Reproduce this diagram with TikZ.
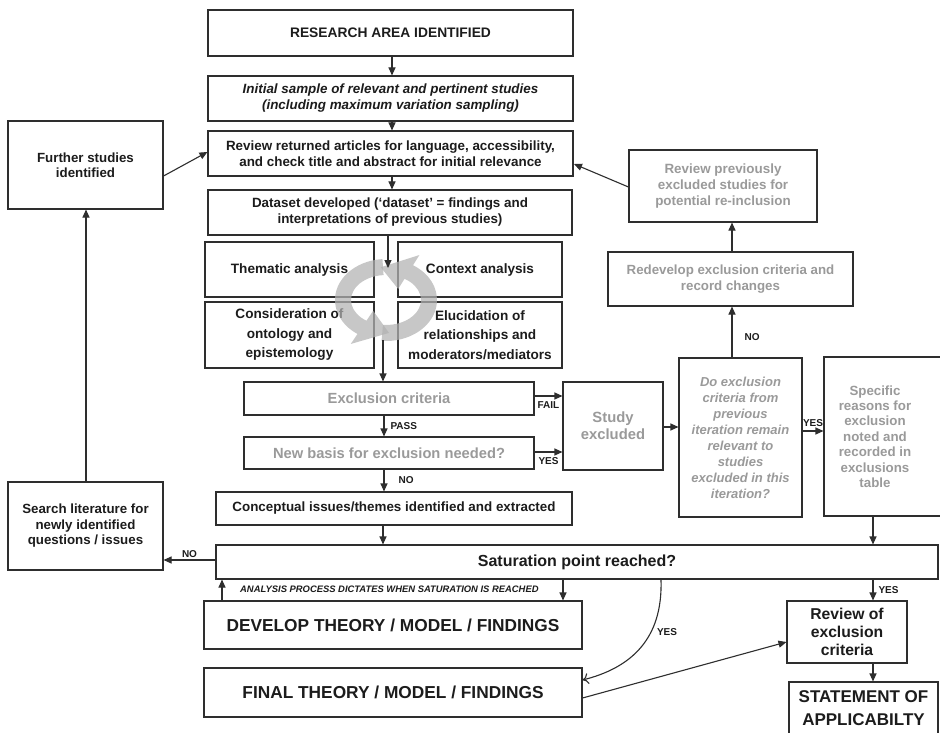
\documentclass[tikz,border=0pt]{standalone}
\usepackage{fontspec}
\setmainfont{Liberation Sans}
\usetikzlibrary{arrows.meta,calc}

\definecolor{ln}{HTML}{2E2E2E}
\definecolor{tx}{HTML}{1C1C1C}
\definecolor{gt}{HTML}{9A9A9A}
\definecolor{cyc}{HTML}{B2B2B2}

\newcommand\myfs[2]{\fontsize{#1}{#2}\selectfont}

\tikzset{
  box/.style={draw=ln, line width=1.1pt, inner sep=1pt, align=center,
    font=\bfseries\myfs{13.4}{16}, text=tx},
  gbox/.style={box, text=gt},
  arr/.style={draw=ln, line width=1.1pt, -{Triangle[length=8pt,width=7pt]}},
  plain/.style={draw=ln, line width=1.1pt},
  lbl/.style={font=\bfseries\myfs{10}{12}, text=tx, inner sep=0pt},
  cycband/.style={fill=cyc, draw=none, opacity=0.72},
}

\begin{document}
\begin{tikzpicture}[x=1pt,y=-1pt]
\clip (0,0) rectangle (940,733);
\fill[white] (0,0) rectangle (940,733);

% ---- main column ----
\node[box, minimum width=365pt, minimum height=46pt, font=\bfseries\myfs{13.8}{16}]
  (research) at (390.5,33) {RESEARCH AREA IDENTIFIED};
\node[box, minimum width=365pt, minimum height=45pt, font=\bfseries\itshape\myfs{13.4}{16}]
  (initial) at (390.5,98.5) {Initial sample of relevant and pertinent studies\\(including maximum variation sampling)};
\node[box, minimum width=365pt, minimum height=45pt]
  (review) at (390.5,153.5) {Review returned articles for language, accessibility,\\and check title and abstract for initial relevance};
\node[box, minimum width=364pt, minimum height=45pt]
  (dataset) at (390,212.5) {Dataset developed (‘dataset’ = findings and\\interpretations of previous studies)};

\node[box, minimum width=169pt, minimum height=55pt, font=\bfseries\myfs{13.6}{19.5}]
  (thematic) at (289.5,269.5) {Thematic analysis};
\node[box, minimum width=164pt, minimum height=55pt, font=\bfseries\myfs{13.6}{19.5}]
  (context) at (480,269.5) {Context analysis};
\node[box, minimum width=169pt, minimum height=66pt, font=\bfseries\myfs{13.6}{19.5}]
  (consid) at (289.5,335) {Consideration of\\ontology and\\epistemology};
\node[box, minimum width=164pt, minimum height=66pt, font=\bfseries\myfs{13.6}{19.5}]
  (eluc) at (480,335) {Elucidation of\\relationships and\\moderators/mediators};

\node[gbox, minimum width=290pt, minimum height=33pt, font=\bfseries\myfs{14.7}{17}]
  (excl) at (389,398.5) {Exclusion criteria};
\node[gbox, minimum width=290pt, minimum height=32pt, font=\bfseries\myfs{14.7}{17}]
  (newbasis) at (389,453) {New basis for exclusion needed?};
\node[box, minimum width=356pt, minimum height=33pt]
  (concept) at (394,508.5) {Conceptual issues/themes identified and extracted};

\node[gbox, minimum width=100pt, minimum height=88pt, font=\bfseries\myfs{14.8}{17}]
  (studyex) at (613,426) {Study\\excluded};
\node[gbox, minimum width=123pt, minimum height=159pt, font=\bfseries\itshape\myfs{13}{16}]
  (doex) at (740.5,437.5) {Do exclusion\\criteria from\\previous\\iteration remain\\relevant to\\studies\\excluded in this\\iteration?};
\node[gbox, minimum width=126pt, minimum height=159pt, inner xsep=0pt, font=\bfseries\myfs{13.3}{15.4}]
  (specific) at (887,436.5) {\parbox{102pt}{\centering Specific\\reasons for\\exclusion\\noted and\\recorded in\\exclusions\\table}\hspace*{24pt}};

\node[gbox, minimum width=188pt, minimum height=72pt]
  (reviewprev) at (723,186) {Review previously\\excluded studies for\\potential re-inclusion};
\node[gbox, minimum width=245pt, minimum height=54pt, font=\bfseries\myfs{13.3}{15.5}]
  (redevelop) at (730.5,279) {Redevelop exclusion criteria and\\record changes};

\node[box, minimum width=155pt, minimum height=88pt, font=\bfseries\myfs{13.3}{15.5}]
  (further) at (85.5,165) {Further studies\\identified};
\node[box, minimum width=155pt, minimum height=88pt, font=\bfseries\myfs{13.3}{15.5}]
  (search) at (85.5,526) {Search literature for\\newly identified\\questions / issues};

\node[box, minimum width=722pt, minimum height=34pt, font=\bfseries\myfs{16}{19}]
  (satur) at (577,562) {Saturation point reached?};

\node[box, minimum width=378pt, minimum height=48pt, font=\bfseries\myfs{17.3}{20}]
  (develop) at (393,625) {DEVELOP THEORY / MODEL / FINDINGS};
\node[box, minimum width=378pt, minimum height=49pt, font=\bfseries\myfs{17.3}{20}]
  (final) at (393,692.5) {FINAL THEORY / MODEL / FINDINGS};

\node[box, minimum width=120pt, minimum height=62pt, font=\bfseries\myfs{15.7}{18}]
  (reviewexcl) at (847,632) {Review of\\exclusion\\criteria};
\node[box, minimum width=149pt, minimum height=53pt, font=\bfseries\myfs{17}{23}]
  (statement) at (863.5,708.5) {STATEMENT OF\\APPLICABILTY};

% ---- cycle arrows (two curved block arrows) ----
\coordinate (cc) at (386,300);
\fill[cycband] ($(cc)+(95:51 and 41)$) arc[start angle=95, end angle=-58, x radius=51, y radius=41]
  -- ($(cc)+(-58:63 and 53)$) -- ($(cc)+(-97:43 and 33)$) -- ($(cc)+(-58:23 and 13)$)
  -- ($(cc)+(-58:35 and 25)$) arc[start angle=-58, end angle=95, x radius=35, y radius=25] -- cycle;
\fill[cycband] ($(cc)+(266:51 and 41)$) arc[start angle=266, end angle=124, x radius=51, y radius=41]
  -- ($(cc)+(124:63 and 53)$) -- ($(cc)+(86:43 and 33)$) -- ($(cc)+(124:23 and 13)$)
  -- ($(cc)+(124:35 and 25)$) arc[start angle=124, end angle=266, x radius=35, y radius=25] -- cycle;

% ---- connectors, main column ----
\draw[arr] (392,0 |- research.south) -- (392,0 |- initial.north);
\draw[arr] (392,0 |- initial.south) -- (392,0 |- review.north);
\draw[arr] (392,0 |- review.south) -- (392,0 |- dataset.north);
\coordinate (cycin) at (388,268);
\coordinate (cycout) at (383,340);
\draw[arr] (388,0 |- dataset.south) -- (cycin);
\draw[arr] (cycout) -- (383,0 |- excl.north);
\draw[arr] (384,0 |- excl.south) -- node[lbl, right=6pt] {PASS} (384,0 |- newbasis.north);
\draw[arr] (384,0 |- newbasis.south) -- node[lbl, right=14pt] {NO} (384,0 |- concept.north);
\draw[arr] (383,0 |- concept.south) -- (383,0 |- satur.north);

% ---- exclusion branch ----
\draw[arr] (excl.east |- 0,396) -- node[lbl, below=5pt] {FAIL} (studyex.west |- 0,396);
\draw[arr] (newbasis.east |- 0,452) -- node[lbl, below=5pt] {YES} (studyex.west |- 0,452);
\draw[arr] (studyex.east |- 0,427) -- (doex.west |- 0,427);
\draw[arr] (doex.east |- 0,431) -- node[lbl, above=4pt] {YES} (specific.west |- 0,431);
\draw[arr] (732,0 |- doex.north) -- node[lbl, right=12pt, pos=0.4] {NO} (732,0 |- redevelop.south);
\draw[arr] (732,0 |- redevelop.north) -- (732,0 |- reviewprev.south);
\draw[arr] (reviewprev.west |- 0,187) -- (574,164);
\draw[arr] (873,0 |- specific.south) -- (873,0 |- satur.north);

% ---- left loop ----
\draw[arr] (further.east |- 0,176) -- (review.west |- 0,152);
\draw[arr] (86,0 |- search.north) -- (86,0 |- further.south);
\draw[arr] (satur.west |- 0,560) -- node[lbl, above=2pt] {NO} (search.east |- 0,560);

% ---- bottom ----
\draw[arr] (222,0 |- develop.north) -- (222,0 |- satur.south);
\draw[arr] (563,0 |- satur.south) -- (563,0 |- develop.north);
\node[font=\bfseries\itshape\myfs{9.4}{10}, text=tx, inner sep=0pt, anchor=west] (analysis) at (240,589.5)
  {ANALYSIS PROCESS DICTATES WHEN SATURATION IS REACHED};
\draw[plain, -{To[length=6pt,width=11pt]}] (661,0 |- satur.south) .. controls (663,640) and (630,668) .. (final.east |- 0,680);
\node[lbl] (yescurve) at (667,632) {YES};
\draw[arr] (873,0 |- satur.south) -- node[lbl, right=5pt] {YES} (873,0 |- reviewexcl.north);
\draw[arr] (final.east |- 0,698) -- (reviewexcl.west |- 0,642);
\draw[arr] (873,0 |- reviewexcl.south) -- (873,0 |- statement.north);
\end{tikzpicture}
\end{document}
